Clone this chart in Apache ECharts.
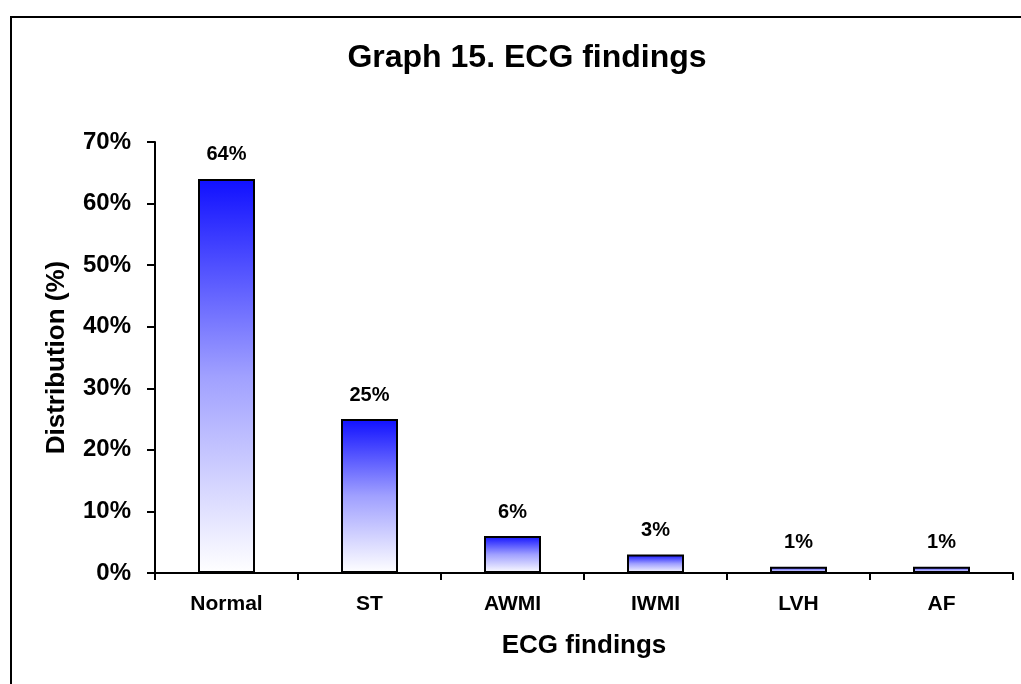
<!DOCTYPE html>
<html>
<head>
<meta charset="utf-8">
<script src="https://cdn.jsdelivr.net/npm/echarts@6/dist/echarts.min.js"></script>
<style>
  html, body { margin: 0; padding: 0; background: #fff; }
  #chart { width: 1021px; height: 684px; }
</style>
</head>
<body>
<div id="chart"></div>
<script>
const categories = ['Normal', 'ST', 'AWMI', 'IWMI', 'LVH', 'AF'];
const distribution = [64, 25, 6, 3, 1, 1];
const yTicks = [0, 10, 20, 30, 40, 50, 60, 70];

const FONT = 'Liberation Sans, Arial, sans-serif';
const chart = echarts.init(document.getElementById('chart'));

const barFill = new echarts.graphic.LinearGradient(0, 0, 0, 1, [
  { offset: 0, color: '#1010ff' },
  { offset: 0.5, color: '#a0a0ff' },
  { offset: 1, color: '#ffffff' }
]);

chart.setOption({
  backgroundColor: '#ffffff',
  animation: false,
  title: {
    text: 'Graph 15. ECG findings',
    left: 522, top: 37, textAlign: 'center',
    textStyle: { fontFamily: FONT, fontSize: 32, fontWeight: 'bold', color: '#000' }
  },
  graphic: [
    { type: 'polyline', shape: { points: [[11, 700], [11, 17], [1030, 17]] },
      style: { stroke: '#000', lineWidth: 2, fill: null } }
  ],
  grid: { left: 155, right: 8, top: 142, bottom: 111 },
  xAxis: {
    type: 'category',
    data: categories,
    name: 'ECG findings',
    nameLocation: 'middle',
    nameGap: 60,
    nameTextStyle: { fontFamily: FONT, fontSize: 26, fontWeight: 'bold', color: '#000' },
    axisLine: { lineStyle: { color: '#000', width: 2 } },
    axisTick: { show: true, length: 7, lineStyle: { color: '#000', width: 2 } },
    axisLabel: { margin: 21, fontFamily: FONT, fontSize: 21, fontWeight: 'bold', color: '#000' }
  },
  yAxis: {
    type: 'value',
    min: yTicks[0],
    max: yTicks[yTicks.length - 1],
    interval: 10,
    name: 'Distribution (%)',
    nameLocation: 'middle',
    nameGap: 85,
    nameRotate: 90,
    nameTextStyle: { fontFamily: FONT, fontSize: 26, fontWeight: 'bold', color: '#000' },
    axisLine: { show: true, lineStyle: { color: '#000', width: 2 } },
    axisTick: { show: true, length: 8, lineStyle: { color: '#000', width: 2 } },
    splitLine: { show: false },
    axisLabel: { margin: 24, fontFamily: FONT, fontSize: 24, fontWeight: 'bold', color: '#000',
      formatter: v => v + '%' }
  },
  series: [{
    type: 'bar',
    data: distribution,
    barWidth: 57,
    itemStyle: { color: barFill, borderColor: '#000', borderWidth: 2 },
    label: {
      show: true, position: 'top', distance: 14,
      fontFamily: FONT, fontSize: 20, fontWeight: 'bold', color: '#000',
      formatter: p => p.value + '%'
    }
  }]
});
</script>
</body>
</html>
